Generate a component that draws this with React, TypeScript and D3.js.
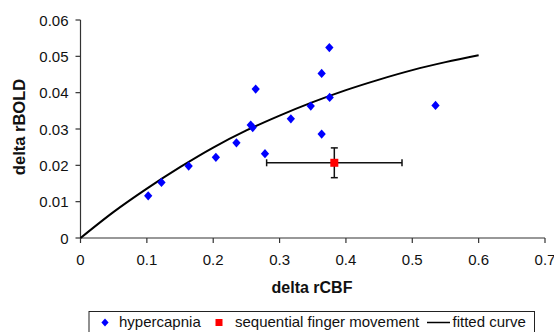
import React from "react";
import * as d3 from "d3";

const hyperCBF = [0.102, 0.122, 0.163, 0.204, 0.235, 0.2565, 0.2595, 0.264, 0.278, 0.317, 0.347, 0.3634, 0.375, 0.3755, 0.3634, 0.535];
const hyperBOLD = [0.0116, 0.0153, 0.0198, 0.0222, 0.0262, 0.0311, 0.0304, 0.041, 0.0232, 0.0328, 0.0363, 0.0453, 0.0524, 0.0387, 0.0286, 0.0365];

const fingerCBF = [0.3825];
const fingerBOLD = [0.0207];
const fingerCBFErr = [0.102];
const fingerBOLDErr = [0.0041];

const curveCBF = [0, 0.05, 0.1, 0.15, 0.2, 0.25, 0.3, 0.35, 0.4, 0.45, 0.5, 0.55, 0.6];
const curveBOLD = [0, 0.0072, 0.0136, 0.0195, 0.0249, 0.0296, 0.0337, 0.0374, 0.0407, 0.0436, 0.0462, 0.0484, 0.0503];

const xTicks = [0, 0.1, 0.2, 0.3, 0.4, 0.5, 0.6, 0.7];
const yTicks = [0, 0.01, 0.02, 0.03, 0.04, 0.05, 0.06];

const legendLabels = ["hypercapnia", "sequential finger movement", "fitted curve"];

const W = 554;
const H = 332;
const x = d3.scaleLinear().domain([0, 0.7]).range([80.5, 545]);
const y = d3.scaleLinear().domain([0, 0.06]).range([238, 20]);

const font = "'Liberation Sans', Arial, sans-serif";

function Diamond({ cx, cy, r = 4.6 }: { cx: number; cy: number; r?: number }) {
  return (
    <path
      d={`M${cx},${cy - r} L${cx + r * 0.9},${cy} L${cx},${cy + r} L${cx - r * 0.9},${cy} Z`}
      fill="#0000ff"
    />
  );
}

export default function App() {
  const line = d3
    .line<number>()
    .x((_, i) => x(curveCBF[i]))
    .y((d) => y(d))
    .curve(d3.curveMonotoneX);

  return (
    <svg
      width={W}
      height={H}
      style={{ position: "absolute", left: 0, top: 0, background: "#fff" }}
      fontFamily={font}
    >
      <rect x={0} y={0} width={W} height={H} fill="#fff" />
      {/* axes */}
      <line x1={x(0)} x2={x(0.7)} y1={y(0)} y2={y(0)} stroke="#333" strokeWidth={1.2} />
      <line x1={x(0)} x2={x(0)} y1={y(0)} y2={y(0.06)} stroke="#333" strokeWidth={1.2} />
      {xTicks.map((t) => (
        <g key={"x" + t}>
          <line x1={x(t)} x2={x(t)} y1={y(0)} y2={y(0) + 5} stroke="#333" strokeWidth={1.2} />
          <text x={x(t)} y={265} fontSize={15} textAnchor="middle" fill="#111">
            {t === 0 ? "0" : d3.format(".1f")(t)}
          </text>
        </g>
      ))}
      {yTicks.map((t) => (
        <g key={"y" + t}>
          <line x1={x(0) - 5} x2={x(0)} y1={y(t)} y2={y(t)} stroke="#333" strokeWidth={1.2} />
          <text x={68.5} y={y(t) + 5.5} fontSize={15} textAnchor="end" fill="#111">
            {t === 0 ? "0" : d3.format(".2f")(t)}
          </text>
        </g>
      ))}
      <text x={312} y={293} fontSize={16} fontWeight="bold" textAnchor="middle" fill="#111">
        delta rCBF
      </text>
      <text
        transform={`translate(25,127) rotate(-90)`}
        fontSize={16.5}
        fontWeight="bold"
        textAnchor="middle"
        fill="#111"
      >
        delta rBOLD
      </text>

      {/* fitted curve */}
      <path d={line(curveBOLD) || ""} fill="none" stroke="#000" strokeWidth={2} />

      {/* hypercapnia points */}
      {hyperCBF.map((c, i) => (
        <Diamond key={"h" + i} cx={x(c)} cy={y(hyperBOLD[i])} />
      ))}

      {/* finger movement with error bars */}
      {fingerCBF.map((c, i) => {
        const cx = x(c);
        const cy = y(fingerBOLD[i]);
        const x0 = x(c - fingerCBFErr[i]);
        const x1 = x(c + fingerCBFErr[i]);
        const y0 = y(fingerBOLD[i] - fingerBOLDErr[i]);
        const y1 = y(fingerBOLD[i] + fingerBOLDErr[i]);
        return (
          <g key={"f" + i} stroke="#111" strokeWidth={1.5}>
            <line x1={x0} x2={x1} y1={cy} y2={cy} />
            <line x1={x0} x2={x0} y1={cy - 3.5} y2={cy + 3.5} />
            <line x1={x1} x2={x1} y1={cy - 3.5} y2={cy + 3.5} />
            <line x1={cx} x2={cx} y1={y0} y2={y1} />
            <line x1={cx - 3.5} x2={cx + 3.5} y1={y0} y2={y0} />
            <line x1={cx - 3.5} x2={cx + 3.5} y1={y1} y2={y1} />
            <rect x={cx - 4} y={cy - 4} width={8} height={8} fill="#ff0000" stroke="none" />
          </g>
        );
      })}

      {/* legend */}
      <rect x={89} y={311.5} width={445.5} height={30} fill="#fff" stroke="#222" strokeWidth={1} />
      <Diamond cx={105} cy={322.5} r={4} />
      <text x={119} y={327} fontSize={15} fill="#111">{legendLabels[0]}</text>
      <rect x={215.5} y={319} width={7} height={7} fill="#ff0000" />
      <text x={235} y={327} fontSize={15} fill="#111">{legendLabels[1]}</text>
      <line x1={427} x2={450} y1={322.5} y2={322.5} stroke="#000" strokeWidth={1.5} />
      <text x={452.5} y={327} fontSize={15} fill="#111">{legendLabels[2]}</text>
    </svg>
  );
}
